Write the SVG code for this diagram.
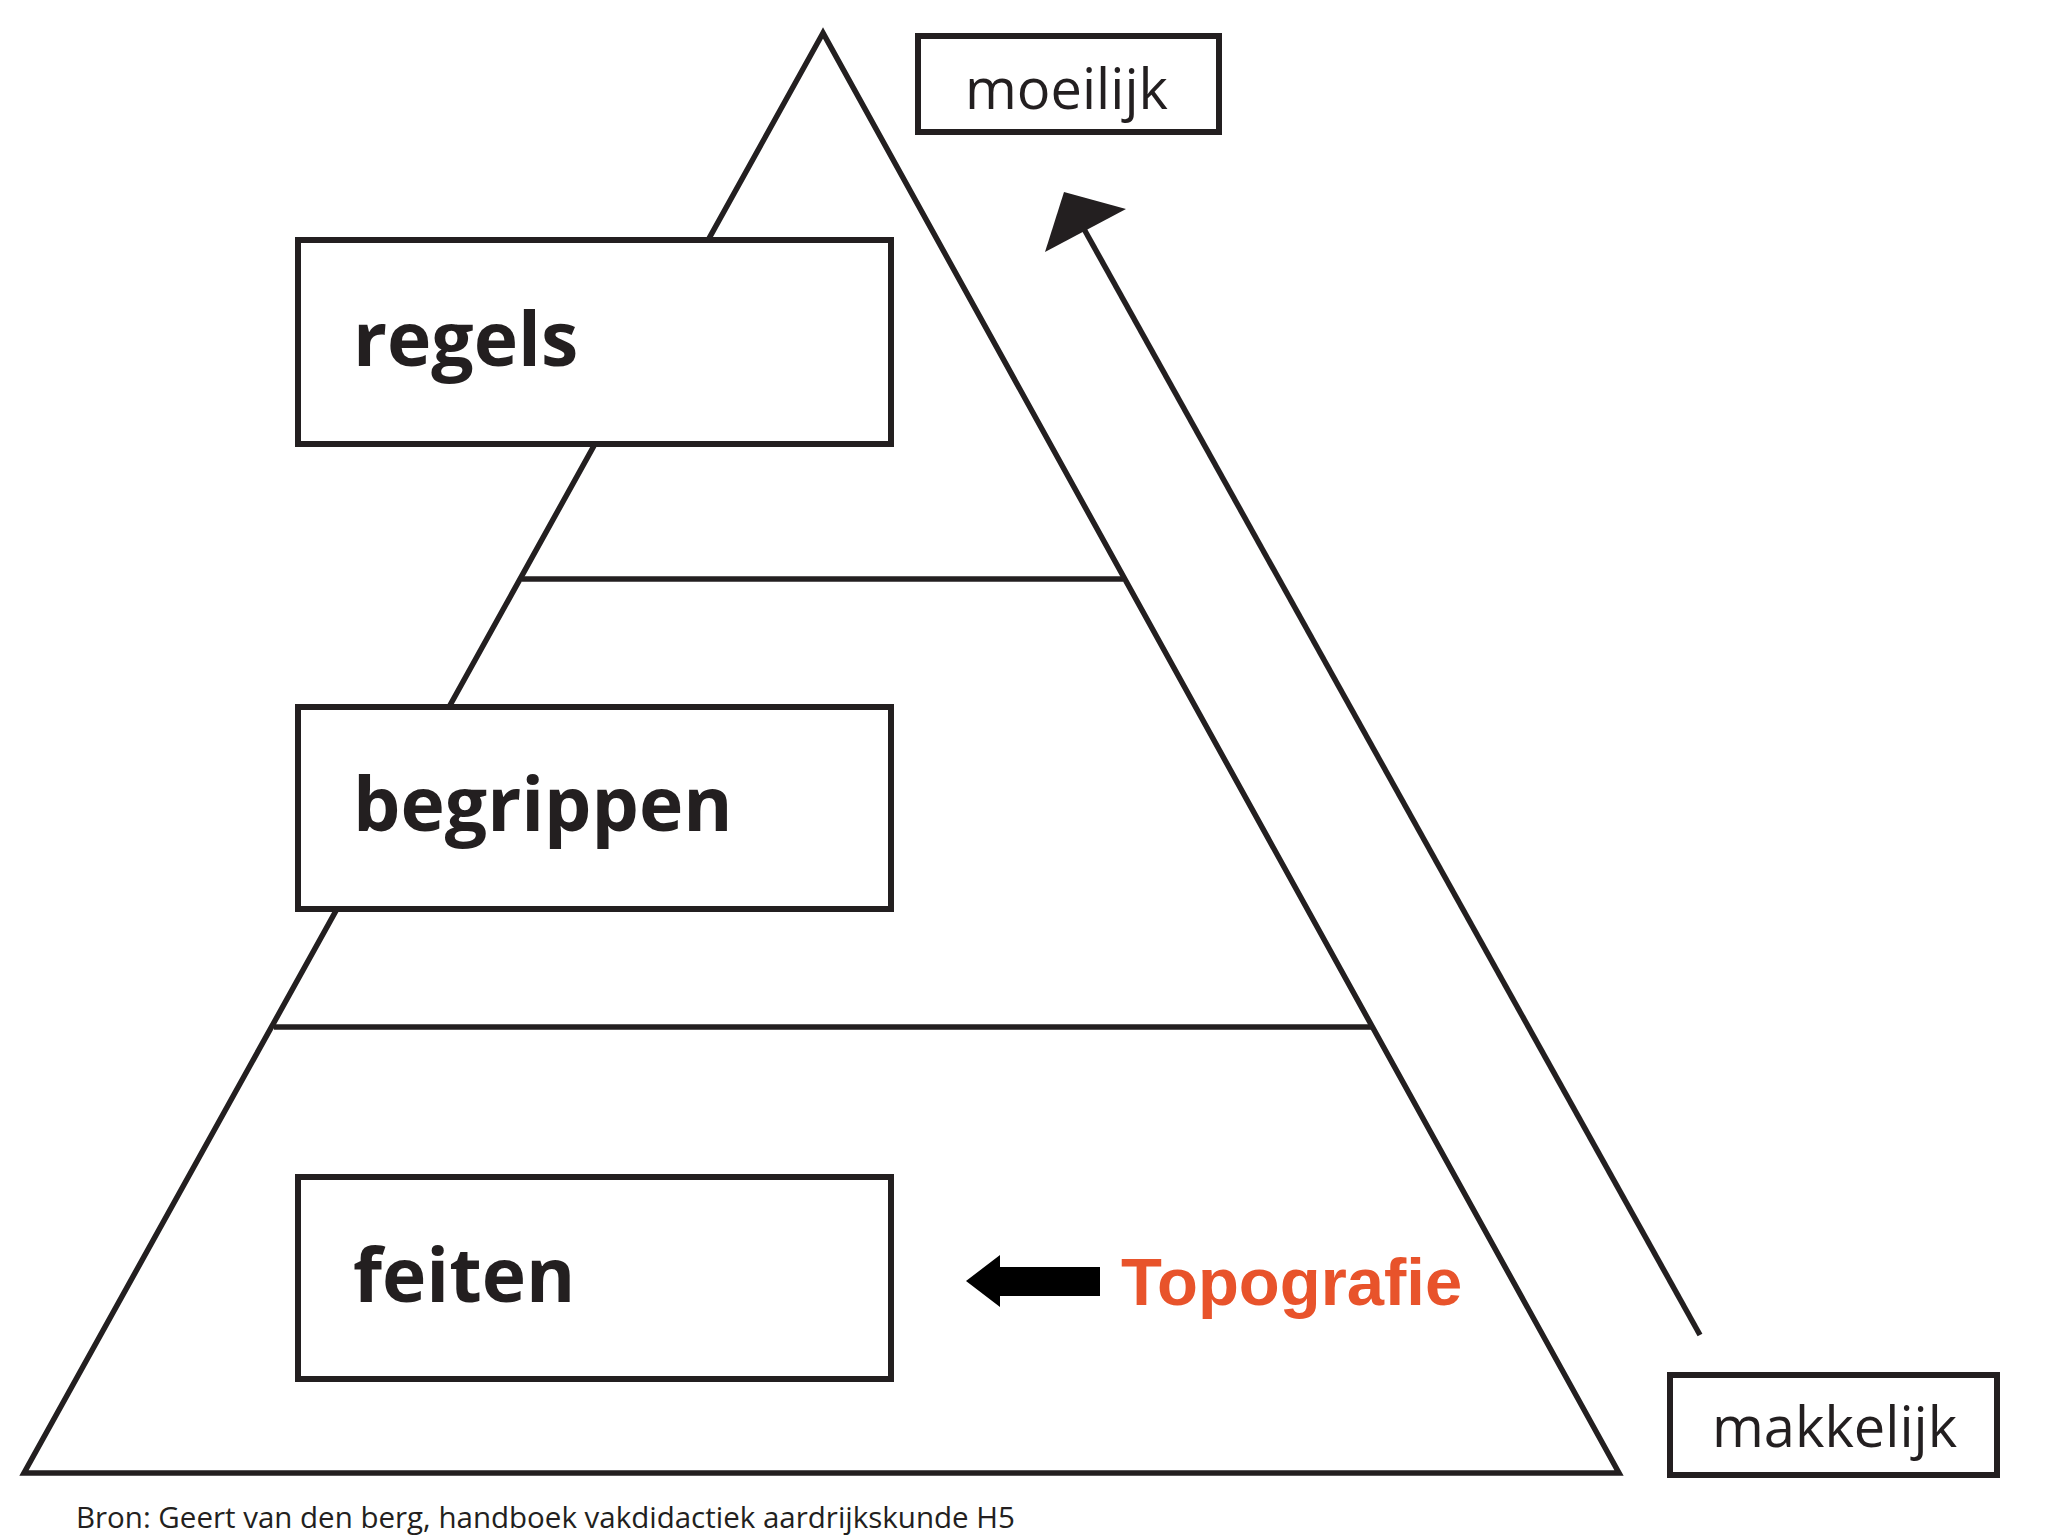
<svg xmlns="http://www.w3.org/2000/svg" width="2048" height="1536" viewBox="0 0 2048 1536">
<style>
.ln{stroke:#231f20;stroke-width:5.5;fill:none}
.box{stroke:#231f20;stroke-width:6;fill:#fff}
.lbl{font-family:"Open Sans","Noto Sans",sans-serif;font-weight:bold;font-size:75px;fill:#231f20}
.sm{font-family:"Open Sans","Noto Sans",sans-serif;font-size:56px;fill:#231f20}
</style>
<rect width="2048" height="1536" fill="#fff"/>
<g id="pyramid">
<polygon class="ln" points="823,33 24,1473 1619,1473"/>
<line class="ln" x1="522" y1="579" x2="1123" y2="579"/>
<line class="ln" x1="274" y1="1027" x2="1371" y2="1027"/>
</g>
<g id="regels"><rect class="box" x="298" y="240" width="593" height="204"/><text class="lbl" x="353" y="366">regels</text></g>
<g id="begrippen"><rect class="box" x="298" y="707" width="593" height="202"/><text class="lbl" x="353" y="831">begrippen</text></g>
<g id="feiten"><rect class="box" x="298" y="1177" width="593" height="202"/><text class="lbl" x="353" y="1302">feiten</text></g>
<g id="moeilijk"><rect class="box" x="918" y="36" width="301" height="96"/><text class="sm" x="965" y="109">moeilijk</text></g>
<g id="makkelijk"><rect class="box" x="1670" y="1375" width="327" height="100"/><text class="sm" x="1712" y="1447" font-size="60">makkelijk</text></g>
<g id="topografie"><text x="1121" y="1305" font-family="Liberation Sans,Arial,sans-serif" font-weight="bold" font-size="67" fill="#e8532b">Topografie</text></g>
<g id="connectors">
<line class="ln" x1="1700" y1="1335" x2="1084" y2="229"/>
<polygon points="1045,252 1064,192 1126,209" fill="#231f20"/>
<polygon points="966,1281 1000,1255 1000,1267 1100,1267 1100,1296 1000,1296 1000,1307" fill="#000"/>
</g>
<text x="76" y="1528" font-family="Open Sans,Noto Sans,sans-serif" font-size="29.5" fill="#231f20">Bron: Geert van den berg, handboek vakdidactiek aardrijkskunde H5</text>
</svg>
